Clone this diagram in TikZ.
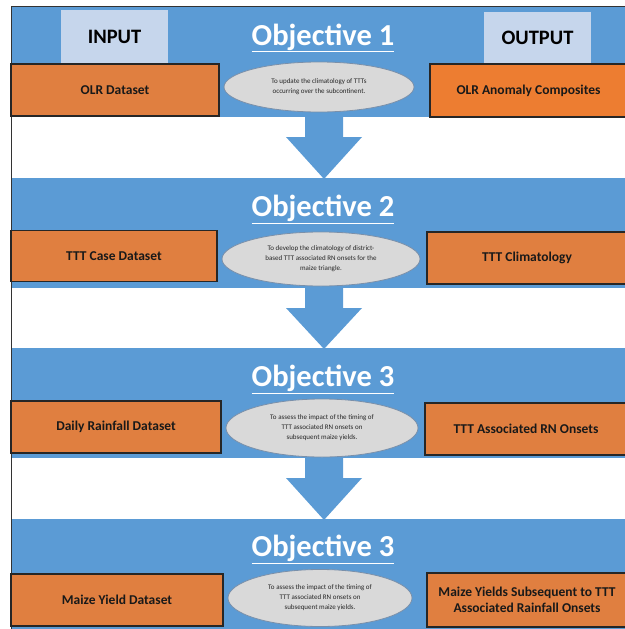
\documentclass[tikz,border=0pt]{standalone}
\usepackage{fontspec}
\setmainfont{Carlito}
\usetikzlibrary{shapes.geometric}
\definecolor{bandblue}{HTML}{5B9BD5}
\definecolor{lightblue}{HTML}{C6D6EC}
\definecolor{orangeA}{HTML}{E07F40}
\definecolor{orangeB}{HTML}{ED7D31}
\definecolor{ellgray}{HTML}{D9D9D9}
\definecolor{elledge}{HTML}{7A90AA}
\tikzset{
  band/.style={fill=bandblue, draw=none, anchor=north west, inner sep=0pt, minimum width=614pt},
  hdrbox/.style={fill=lightblue, draw=none, inner sep=0pt, font=\fontsize{20.5}{24}\selectfont\bfseries},
  title/.style={text=white, font=\fontsize{30.5}{36}\selectfont\bfseries, inner sep=0pt},
  databox/.style={draw=black!85, line width=1.3pt, inner sep=2pt, align=center, font=\fontsize{13.5}{16.5}\selectfont\bfseries, text=black!90},
  goal/.style={ellipse, fill=ellgray, draw=elledge, line width=0.8pt, inner sep=0pt, align=center, font=\fontsize{7}{10}\selectfont, text=black!85},
  downarrow/.style={fill=bandblue, draw=none}
}
\begin{document}
\begin{tikzpicture}[x=1pt,y=-1pt]
\useasboundingbox (0,0) rectangle (624,629);
% bands
\node[band, minimum height=110pt] (b1) at (12,7) {};
\node[band, minimum height=110pt] (b2) at (12,178) {};
\node[band, minimum height=110pt] (b3) at (12,348) {};
\node[band, minimum height=112pt] (b4) at (12,519) {};
% frame
\draw[black!80, line width=1pt] (11,630) -- (11,6) -- (625,6);
% arrows
\foreach \t/\b in {117/178, 288/348, 458/519}{
  \fill[downarrow] (305,\t-2) -- (343,\t-2) -- (343,\t+20) -- (362,\t+20) -- (324,\b+1) -- (286,\t+20) -- (305,\t+20) -- cycle;
}
% header boxes
\node[hdrbox, minimum width=107pt, minimum height=53pt] (input) at (114.5,36.5) {INPUT};
\node[hdrbox, minimum width=107pt, minimum height=51pt] (output) at (537.5,37.5) {OUTPUT};
% titles
\node[title] (t1) at (323,38) {\underline{Objective 1}};
\node[title] (t2) at (323,209) {\underline{Objective 2}};
\node[title] (t3) at (323,379) {\underline{Objective 3}};
\node[title] (t4) at (323,549) {\underline{Objective 3}};
% row 1
\node[databox, fill=orangeA, minimum width=208pt, minimum height=52pt] (in1) at (115,90) {OLR Dataset};
\node[goal, minimum width=190pt, minimum height=50pt] (g1) at (319,87) {To update the climatology of TTTs\\occurring over the subcontinent.};
\node[databox, fill=orangeB, minimum width=197pt, minimum height=53pt] (out1) at (528.5,90.5) {OLR Anomaly Composites};
% row 2
\node[databox, fill=orangeA, minimum width=206pt, minimum height=51pt] (in2) at (114,256) {TTT Case Dataset};
\node[goal, minimum width=198pt, minimum height=54pt] (g2) at (321,259) {To develop the climatology of district-\\based TTT associated RN onsets for the\\maize triangle.};
\node[databox, fill=orangeA, minimum width=200pt, minimum height=52pt] (out2) at (527,258) {TTT Climatology};
% row 3
\node[databox, fill=orangeA, minimum width=210pt, minimum height=52pt] (in3) at (116,427) {Daily Rainfall Dataset};
\node[goal, minimum width=192pt, minimum height=58pt] (g3) at (322,428) {To assess the impact of the timing of\\TTT associated RN onsets on\\subsequent maize yields.};
\node[databox, fill=orangeA, minimum width=202pt, minimum height=52pt] (out3) at (526,429) {TTT Associated RN Onsets};
% row 4
\node[databox, fill=orangeA, minimum width=212pt, minimum height=52pt] (in4) at (117,600) {Maize Yield Dataset};
\node[goal, minimum width=184pt, minimum height=57pt] (g4) at (320,598) {To assess the impact of the timing of\\TTT associated RN onsets on\\subsequent maize yields.};
\node[databox, fill=orangeA, minimum width=200pt, minimum height=54pt] (out4) at (527,600) {Maize Yields Subsequent to TTT\\Associated Rainfall Onsets};
\end{tikzpicture}
\end{document}
